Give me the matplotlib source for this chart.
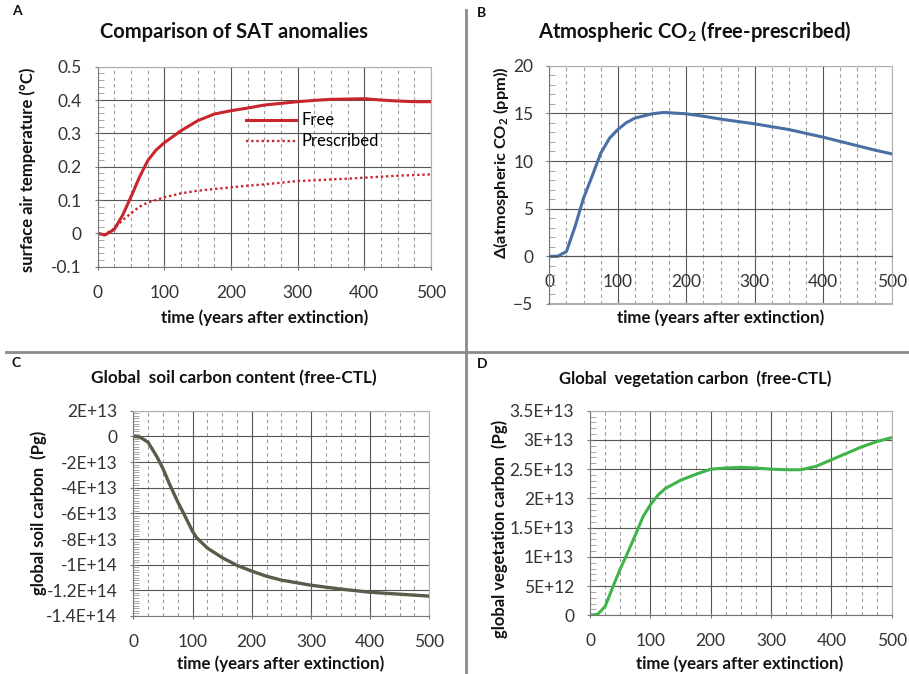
import matplotlib
matplotlib.use("Agg")
import matplotlib.pyplot as plt
from matplotlib.ticker import MultipleLocator
from matplotlib.lines import Line2D

plt.rcParams['font.family'] = ['Lato', 'DejaVu Sans']
plt.rcParams['mathtext.fontset'] = 'custom'
plt.rcParams['mathtext.rm'] = 'Lato'
plt.rcParams['mathtext.bf'] = 'Lato:bold'

# ---- data ----
# A: surface air temperature anomaly (deg C)
sat_years = [0, 11, 25, 37.5, 50, 62.5, 75, 87.5, 100, 112.5, 125, 150, 175, 200, 225, 250,
             275, 300, 325, 350, 375, 400, 425, 450, 475, 500]
sat_free = [0, -0.005, 0.012, 0.055, 0.11, 0.168, 0.218, 0.25, 0.272, 0.29, 0.308, 0.338, 0.358,
            0.368, 0.376, 0.385, 0.39, 0.395, 0.399, 0.402, 0.403, 0.404, 0.4, 0.397, 0.395, 0.395]
sat_presc = [0, -0.003, 0.015, 0.04, 0.06, 0.08, 0.092, 0.1, 0.108, 0.114, 0.12, 0.128, 0.133,
             0.138, 0.143, 0.147, 0.152, 0.157, 0.159, 0.162, 0.164, 0.167, 0.17, 0.173, 0.175, 0.177]

# B: atmospheric CO2 difference (ppm)
co2_years = [0, 12, 25, 37.5, 50, 63, 75, 88, 100, 112, 125, 150, 167, 200, 225, 250, 275,
             300, 325, 350, 375, 400, 425, 450, 475, 500]
co2_diff = [0, 0, 0.5, 3.1, 6.1, 8.5, 10.8, 12.4, 13.3, 14.0, 14.5, 14.95, 15.1, 14.95, 14.7,
            14.4, 14.15, 13.9, 13.6, 13.3, 12.9, 12.5, 12.05, 11.6, 11.15, 10.75]

# C: global soil carbon (free-CTL)
soil_years = [0, 11, 25, 40, 50, 60, 75, 85, 100, 107, 125, 150, 175, 200, 225, 250, 275, 300,
              350, 400, 450, 500]
soil_carbon = [0, -0.05e13, -0.46e13, -1.6e13, -2.5e13, -3.6e13, -5.1e13, -6.0e13, -7.4e13,
               -7.9e13, -8.7e13, -9.45e13, -10.05e13, -10.5e13, -10.9e13, -11.2e13, -11.4e13,
               -11.6e13, -11.9e13, -12.15e13, -12.3e13, -12.45e13]

# D: global vegetation carbon (free-CTL)
veg_years = [0, 13, 25, 38, 50, 62, 75, 88, 100, 113, 125, 150, 175, 200, 225, 250, 275, 300,
             325, 350, 375, 400, 425, 450, 475, 500]
veg_carbon = [0, 0.02e13, 0.15e13, 0.49e13, 0.79e13, 1.06e13, 1.37e13, 1.69e13, 1.89e13,
              2.06e13, 2.17e13, 2.31e13, 2.41e13, 2.5e13, 2.52e13, 2.53e13, 2.52e13, 2.5e13,
              2.49e13, 2.49e13, 2.55e13, 2.66e13, 2.77e13, 2.88e13, 2.97e13, 3.04e13]

soil_ticks = [2e13, 0, -2e13, -4e13, -6e13, -8e13, -1e14, -1.2e14, -1.4e14]
soil_labels = ['2E+13', '0', '-2E+13', '-4E+13', '-6E+13', '-8E+13', '-1E+14', '-1.2E+14', '-1.4E+14']
veg_ticks = [0, 5e12, 1e13, 1.5e13, 2e13, 2.5e13, 3e13, 3.5e13]
veg_labels = ['0', '5E+12', '1E+13', '1.5E+13', '2E+13', '2.5E+13', '3E+13', '3.5E+13']

W, H = 909, 674
fig = plt.figure(figsize=(W / 100, H / 100), dpi=100)


def box(l, t, r, b):
    return [l / W, 1 - b / H, (r - l) / W, (b - t) / H]


def style(ax, ymin_step, size=12.5):
    ax.set_xlim(0, 500)
    ax.xaxis.set_major_locator(MultipleLocator(100))
    ax.xaxis.set_minor_locator(MultipleLocator(25))
    ax.yaxis.set_minor_locator(MultipleLocator(ymin_step))
    ax.grid(which='major', color='#555555', lw=0.8)
    ax.grid(which='minor', axis='x', color='#9a9a9a', lw=0.8, ls=(0, (3, 3)))
    ax.set_axisbelow(True)
    for s in ['top', 'right']:
        ax.spines[s].set_color('#b0b0b0')
    for s in ['left', 'bottom']:
        ax.spines[s].set_color('#777777')
    ax.tick_params(which='major', direction='inout', length=5, color='#777777',
                   labelsize=size, labelcolor='#333333')
    ax.tick_params(which='minor', direction='in', length=4, color='#999999')
    ax.tick_params(axis='x', which='minor', length=0)
    ax.tick_params(axis='x', pad=10.5)
    ax.tick_params(axis='y', pad=9)


# ---- A ----
axA = fig.add_axes(box(97.7, 66.7, 431, 266.7))
axA.plot(sat_years, sat_free, color='#c8262c', lw=2.2, label='Free')
axA.plot(sat_years, sat_presc, color='#c8262c', lw=1.7, ls=(0, (1, 1.2)), label='Prescribed')
axA.set_ylim(-0.1, 0.5)
style(axA, 0.02)
axA.set_yticks([-0.1, 0, 0.1, 0.2, 0.3, 0.4, 0.5])
axA.set_yticklabels(['-0.1', '0', '0.1', '0.2', '0.3', '0.4', '0.5'])
axA.legend(loc='upper left', bbox_to_anchor=(0.425, 0.805), frameon=False, fontsize=12,
           handlelength=3.0, labelspacing=0.3, handletextpad=0.3, borderaxespad=0)

# ---- B ----
axB = fig.add_axes(box(549.3, 65.7, 891.7, 304))
axB.plot(co2_years, co2_diff, color='#4a6fa5', lw=2.2)
axB.set_ylim(-5, 20)
axB.yaxis.set_major_locator(MultipleLocator(5))
style(axB, 1)
axB.spines['bottom'].set_position(('data', 0))
axB.spines['bottom'].set_color('#555555')
axB.axhline(-5, color='#b0b0b0', lw=1.5, clip_on=False)

# ---- C ----
axC = fig.add_axes(box(133.3, 410.7, 429.3, 616))
axC.plot(soil_years, soil_carbon, color='#565e4a', lw=2.4)
axC.set_ylim(-1.4e14, 2e13)
style(axC, 2e12)
axC.set_yticks(soil_ticks)
axC.set_yticklabels(soil_labels)

# ---- D ----
axD = fig.add_axes(box(590, 410.7, 891.7, 615.3))
axD.plot(veg_years, veg_carbon, color='#3fb449', lw=2.2)
axD.set_ylim(0, 3.5e13)
style(axD, 1e12)
axD.set_yticks(veg_ticks)
axD.set_yticklabels(veg_labels)


# ---- titles, labels ----
def ft(x, y, s, **kw):
    fig.text(x / W, 1 - y / H, s, **kw)


bold = dict(fontweight='bold', color='#111111')
ft(12, 15, 'A', fontsize=10, **bold)
ft(477, 17, 'B', fontsize=10, **bold)
ft(12, 367, 'C', fontsize=10, **bold)
ft(477, 368, 'D', fontsize=10, **bold)

ft(234, 32, 'Comparison of SAT anomalies', fontsize=14.5, ha='center', va='center', **bold)
ft(695, 32, r'Atmospheric CO$_\mathbf{2}$ (free-prescribed)', fontsize=14.5, ha='center',
   va='center', **bold)
ft(234, 378, 'Global  soil carbon content (free-CTL)', fontsize=12.3, ha='center', va='center', **bold)
ft(695, 379, 'Global  vegetation carbon  (free-CTL)', fontsize=12, ha='center', va='center', **bold)

ft(265, 318, 'time (years after extinction)', fontsize=12.2, ha='center', va='center', **bold)
ft(721, 318, 'time (years after extinction)', fontsize=12.2, ha='center', va='center', **bold)
ft(281, 664, 'time (years after extinction)', fontsize=12.2, ha='center', va='center', **bold)
ft(740, 664, 'time (years after extinction)', fontsize=12.2, ha='center', va='center', **bold)

ft(28, 170, 'surface air temperature (°C)', fontsize=12, rotation=90, ha='center',
   va='center', **bold)
ft(501, 163, r'$\mathbf{\Delta}$(atmospheric CO$_\mathbf{2}$ (ppm))', family='Lato', fontsize=11.8,
   rotation=90, ha='center', va='center', **bold)
ft(39, 513, 'global soil carbon  (Pg)', fontsize=12, rotation=90, ha='center', va='center', **bold)
ft(500, 529, 'global vegetation carbon  (Pg)', fontsize=12, rotation=90, ha='center',
   va='center', **bold)

# panel separators
fig.add_artist(Line2D([466 / W, 466 / W], [0, 1 - 10 / H], color='#8a8a8a', lw=2))
fig.add_artist(Line2D([6 / W, 1], [1 - 352 / H, 1 - 352 / H], color='#8a8a8a', lw=2))

fig.savefig('out.png', dpi=100)
